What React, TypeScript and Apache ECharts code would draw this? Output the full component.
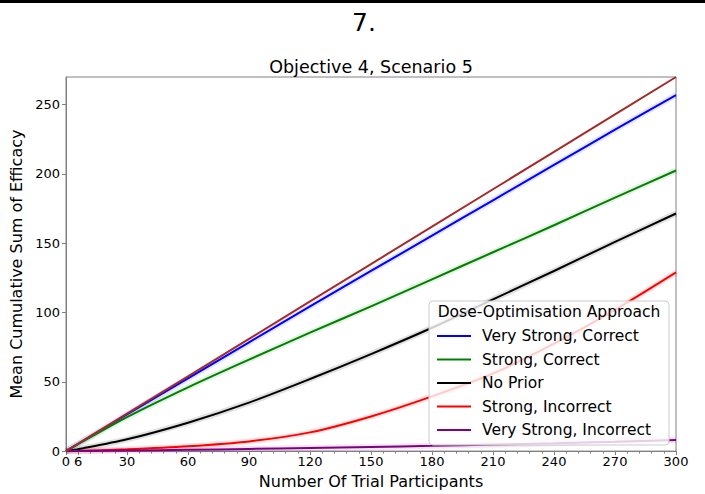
import React, { useEffect, useRef } from "react";
import * as echarts from "echarts";

const participants = [0, 6, 30, 60, 90, 120, 150, 180, 210, 240, 270, 300];
const veryStrongCorrect = [0, 5.3, 26.5, 52.5, 78.5, 104.5, 130, 155.5, 181, 206.5, 232, 257];
const strongCorrect = [0, 5, 24.5, 46, 66, 85.5, 104.5, 124, 143.5, 163, 183, 202.5];
const noPrior = [0, 1.4, 8.5, 20.5, 35, 52, 70, 89, 109.5, 130, 151, 171.5];
const strongIncorrect = [0, 0.15, 1.3, 3.5, 7, 13.5, 25, 39.5, 56, 77.5, 102, 129];
const veryStrongIncorrect = [0, 0.05, 0.4, 0.9, 1.6, 2.3, 3.0, 3.8, 4.7, 5.6, 6.7, 8];
const oracle = [0, 5.4, 27, 54, 81, 108, 135, 162, 189, 216, 243, 270];

const xLabelTicks = [0, 6, 30, 60, 90, 120, 150, 180, 210, 240, 270, 300];
const xMinorTicks = [0, 6, 12, 18, 24, 30, 36, 42, 48, 54, 60, 66, 72, 78, 84, 90, 96, 102, 108, 114, 120, 126, 132, 138, 144, 150, 156, 162, 168, 174, 180, 186, 192, 198, 204, 210, 216, 222, 228, 234, 240, 246, 252, 258, 264, 270, 276, 282, 288, 294, 300];

const legendNames = ["Very Strong, Correct", "Strong, Correct", "No Prior", "Strong, Incorrect", "Very Strong, Incorrect"];
const seriesValues = [veryStrongCorrect, strongCorrect, noPrior, strongIncorrect, veryStrongIncorrect];
const seriesColors = ["#0000ff", "#008000", "#000000", "#ff0000", "#800080"];

const FONT = "DejaVu Sans";

export default function App() {
  const ref = useRef<HTMLDivElement>(null);
  useEffect(() => {
    if (!ref.current) return;
    const chart = echarts.init(ref.current, null, { renderer: "svg" });
    const pairs = (vals: number[]) => participants.map((x, i) => [x, vals[i]]);
    const bands = seriesValues.map((vals, i) => ({
      name: "band" + i,
      type: "line",
      data: pairs(vals),
      symbol: "none",
      smooth: 0.3,
      silent: true,
      z: 1,
      lineStyle: { color: seriesColors[i], width: 6, opacity: i === 2 ? 0.12 : 0.1 },
    }));
    const mains = seriesValues.map((vals, i) => ({
      name: legendNames[i],
      type: "line",
      data: pairs(vals),
      symbol: "none",
      smooth: 0.3,
      z: 2,
      lineStyle: { color: seriesColors[i], width: 2 },
      itemStyle: { color: seriesColors[i] },
    }));
    chart.setOption({
      animation: false,
      textStyle: { fontFamily: FONT },
      grid: { left: 66, right: 29, top: 77, bottom: 42, show: true, borderColor: "#808080", borderWidth: 1 },
      xAxis: [
        {
          type: "value",
          min: 0,
          max: 300,
          name: "Number Of Trial Participants",
          nameLocation: "middle",
          nameGap: 20,
          nameTextStyle: { fontFamily: FONT, fontSize: 16, color: "#000" },
          axisLine: { show: true, lineStyle: { color: "#808080" } },
          axisTick: { show: true, customValues: xLabelTicks, length: 4, lineStyle: { color: "#808080" } },
          axisLabel: { customValues: xLabelTicks, fontFamily: FONT, fontSize: 13, color: "#000", margin: 4, showMinLabel: true, showMaxLabel: true },
          splitLine: { show: false },
        },
        {
          type: "value",
          min: 0,
          max: 300,
          position: "bottom",
          axisLine: { show: false },
          axisTick: { show: true, customValues: xMinorTicks, length: 2.5, lineStyle: { color: "#808080" } },
          axisLabel: { show: false },
          splitLine: { show: false },
        },
      ],
      yAxis: {
        type: "value",
        min: 0,
        max: 270,
        interval: 50,
        name: "Mean Cumulative Sum of Efficacy",
        nameLocation: "middle",
        nameGap: 25,
        nameTextStyle: { fontFamily: FONT, fontSize: 16, color: "#000" },
        axisLine: { show: true, lineStyle: { color: "#808080" } },
        axisTick: { show: true, length: 4, lineStyle: { color: "#808080" } },
        axisLabel: { fontFamily: FONT, fontSize: 13, color: "#000", margin: 6, showMaxLabel: false },
        splitLine: { show: false },
      },
      legend: {
        data: legendNames,
        orient: "vertical",
        left: 437,
        top: 327,
        padding: 0,
        itemGap: 5.5,
        itemWidth: 34,
        itemHeight: 2,
        icon: "rect",
        z: 6,
        textStyle: { fontFamily: FONT, fontSize: 15.5, color: "#000", lineHeight: 18, padding: [0, 0, 0, 6] },
      },
      graphic: [
        { type: "rect", x: 0, y: 0, shape: { width: 705, height: 3 }, style: { fill: "#000" }, z: 10 },
        { type: "text", x: 364, y: 22, style: { text: "7.", fontFamily: FONT, fontSize: 25, fill: "#000", align: "center", verticalAlign: "middle" }, z: 10 },
        { type: "text", x: 371, y: 67, style: { text: "Objective 4, Scenario 5", fontFamily: FONT, fontSize: 17.5, fill: "#000", align: "center", verticalAlign: "middle" }, z: 10 },
        { type: "rect", x: 429, y: 301, shape: { width: 240, height: 144, r: 4 }, style: { fill: "rgba(255,255,255,0.8)", stroke: "#cccccc", lineWidth: 1 }, z: 3 },
        { type: "text", x: 549, y: 312, style: { text: "Dose-Optimisation Approach", fontFamily: FONT, fontSize: 15.5, fill: "#000", align: "center", verticalAlign: "middle" }, z: 7 },
      ],
      series: [
        ...bands,
        ...mains,
        {
          name: "Oracle",
          type: "line",
          data: pairs(oracle),
          symbol: "none",
          z: 2,
          lineStyle: { color: "#a52a2a", width: 2 },
        },
      ],
    });
    return () => chart.dispose();
  }, []);
  return <div ref={ref} style={{ position: "fixed", left: 0, top: 0, width: 705, height: 494, background: "#fff" }} />;
}
